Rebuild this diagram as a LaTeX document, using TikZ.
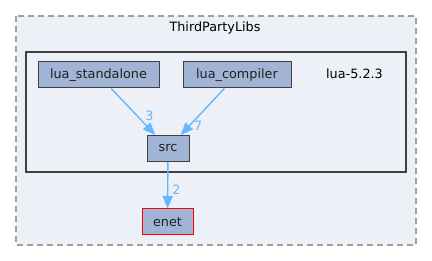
\documentclass[tikz,border=0pt]{standalone}
\usepackage{fontspec}
\setmainfont{DejaVu Sans}
\usetikzlibrary{arrows.meta}
\definecolor{dirfill}{HTML}{A2B4D6}
\definecolor{clusterbg}{HTML}{EDF0F7}
\definecolor{edgeblue}{HTML}{63B8FF}
\definecolor{boxline}{HTML}{404040}
\definecolor{dashgray}{HTML}{A0A0A0}
\tikzset{every node/.style={align=center}, font=\fontsize{12.8}{15}\selectfont,
  dirbox/.style={draw=boxline, fill=dirfill, line width=1pt, minimum height=26pt, inner xsep=11pt, text=black!88},
  depedge/.style={-{Triangle[length=12.5pt,width=10pt]}, color=edgeblue, line width=1.4pt},
  deplabel/.style={text=edgeblue, inner sep=1pt}}

\begin{document}
\begin{tikzpicture}[x=1pt, y=-1pt]
            \useasboundingbox (0,0) rectangle (432,261);
            % outer folder and the lua folder inside it
            \draw [fill=clusterbg, draw=dashgray, line width=1.3pt, dash pattern=on 6pt off 4pt] (16,16) rectangle (416,245);
            \node (tpl) at (215,28) {ThirdPartyLibs};
            \draw [fill=clusterbg, draw=boxline, line width=2pt] (26,52) rectangle (406,172);
            \node (lua) at (354.5,74) {lua-5.2.3};
            % directories
            \node [dirbox, minimum width=121pt] (standalone) at (98.5,75) {lua\_standalone};
            \node [dirbox, minimum width=108pt] (compiler) at (237,75) {lua\_compiler};
            \node [dirbox, minimum width=42pt] (src) at (168,148.5) {src};
            \node [dirbox, draw=red, minimum width=51pt] (enet) at (167.5,222) {enet};
            \path[depedge] (standalone) edge node [deplabel, pos=0.58, right, xshift=7pt] {3} (src)
                (compiler) edge node [deplabel, pos=0.81, right, xshift=3.5pt] {7} (src)
                (src) edge node [deplabel, pos=0.6, right, xshift=3pt] {2} (enet);
        \end{tikzpicture}
\end{document}
